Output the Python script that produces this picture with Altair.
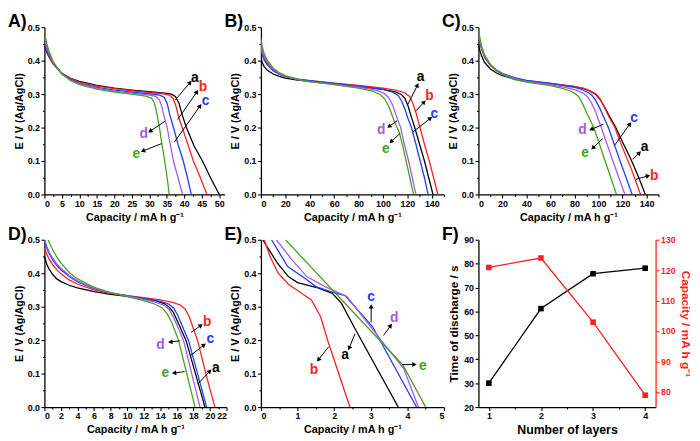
import math
import altair as alt
import pandas as pd

FONT = "Liberation Sans"
SERIES = ["a", "b", "c", "d", "e"]
COLORS = ["#000000", "#ff1f1f", "#1f3cff", "#a25ce6", "#42a31e"]
RED = "#ff1f1f"

W_A, W_B, W_C = 183, 186, 183
W_D, W_E, W_F = 185, 186, 180
H = 170

# ---------------- Panel A ----------------
A_a = [[0,0.45],[0.5,0.43],[1,0.417],[2.5,0.39],[5,0.362],[7.5,0.347],[10,0.338],[15,0.326],[20,0.318],[25,0.312],[30,0.307],[35,0.302],[36.5,0.299],[37.5,0.292],[38.5,0.272],[39.5,0.235],[40.6,0.2],[42.8,0.145],[45.2,0.1],[47.5,0.05],[50,0]]
A_b = [[0,0.455],[0.5,0.435],[1,0.42],[2.5,0.391],[5,0.362],[7.5,0.346],[10,0.336],[15,0.324],[20,0.316],[25,0.31],[30,0.305],[34,0.301],[35.8,0.297],[36.8,0.287],[37.6,0.265],[38.4,0.23],[39.4,0.2],[41,0.15],[42.6,0.1],[44.6,0.05],[46.5,0]]
A_c = [[0,0.46],[0.5,0.44],[1,0.423],[2.5,0.392],[5,0.36],[7.5,0.344],[10,0.333],[15,0.32],[20,0.312],[25,0.306],[30,0.301],[33,0.297],[34.3,0.29],[35.1,0.272],[35.8,0.24],[36.9,0.2],[38.2,0.15],[39.7,0.1],[40.9,0.05],[42,0]]
A_d = [[0,0.47],[0.5,0.447],[1,0.43],[2.5,0.394],[5,0.36],[7.5,0.342],[10,0.331],[15,0.318],[20,0.309],[25,0.303],[30,0.297],[31.8,0.293],[32.9,0.283],[33.6,0.262],[34.2,0.235],[35.1,0.2],[36,0.15],[36.9,0.1],[38.2,0.05],[39.5,0]]
A_e = [[0,0.495],[0.3,0.47],[0.7,0.45],[1.2,0.432],[2.5,0.397],[5,0.36],[7.5,0.34],[10,0.328],[15,0.315],[20,0.306],[25,0.3],[29,0.294],[30.6,0.288],[31.4,0.275],[32,0.25],[32.9,0.2],[33.6,0.15],[34.4,0.1],[35.1,0.05],[35.7,0]]
# arrows: start x, start y, end x, end y, label x, label y
A_arrows = [[37.4,0.282,42.0,0.339,43.0,0.349],[38.1,0.224,43.9,0.311,45.3,0.320],[37.2,0.157,44.8,0.269,46.1,0.279],[34.5,0.219,29.8,0.186,28.4,0.181],[33.5,0.152,27.7,0.128,26.3,0.122]]
A_xdom = [0, 51.5]
A_xticks = [0, 5, 10, 15, 20, 25, 30, 35, 40, 45, 50]
A_xminor = [2.5, 7.5, 12.5, 17.5, 22.5, 27.5, 32.5, 37.5, 42.5, 47.5]

# ---------------- Panel B ----------------
B_a = [[0,0.41],[1,0.395],[2.5,0.383],[5,0.372],[10,0.36],[15,0.353],[20,0.348],[30,0.342],[40,0.338],[60,0.331],[80,0.323],[100,0.314],[110,0.307],[115,0.299],[118,0.287],[120.5,0.265],[123,0.235],[126,0.2],[130,0.15],[134,0.1],[137.5,0.05],[141,0]]
B_b = [[0,0.44],[1,0.425],[2.5,0.41],[5,0.392],[10,0.372],[15,0.36],[20,0.353],[30,0.345],[40,0.34],[60,0.333],[80,0.326],[100,0.318],[110,0.312],[118,0.304],[122,0.292],[124.5,0.272],[127,0.245],[130,0.205],[134,0.15],[138,0.1],[141.5,0.05],[145,0]]
B_c = [[0,0.43],[1,0.418],[2.5,0.403],[5,0.388],[10,0.37],[15,0.359],[20,0.352],[30,0.345],[40,0.34],[60,0.332],[80,0.324],[100,0.314],[108,0.306],[112.5,0.296],[115.5,0.278],[118,0.255],[120.5,0.227],[123.3,0.2],[127,0.15],[130.5,0.1],[134,0.05],[137,0]]
B_d = [[0,0.45],[1,0.433],[2.5,0.415],[5,0.397],[10,0.375],[15,0.361],[20,0.353],[30,0.343],[40,0.337],[60,0.329],[80,0.321],[95,0.311],[101,0.302],[104.5,0.29],[107.5,0.27],[110,0.245],[112.3,0.22],[114.5,0.2],[117.5,0.15],[121,0.1],[124,0.05],[127,0]]
B_e = [[0,0.465],[1,0.445],[2.5,0.423],[5,0.402],[10,0.378],[15,0.364],[20,0.355],[30,0.344],[40,0.337],[60,0.328],[80,0.318],[92,0.308],[98,0.298],[101.5,0.285],[104.5,0.265],[107,0.242],[109.1,0.22],[111.5,0.2],[113.6,0.183],[116.5,0.14],[119,0.1],[122,0.05],[125,0]]
B_arrows = [[120.2,0.268,128.9,0.331,130.8,0.350],[126.8,0.249,134.7,0.280,138.1,0.295],[124.2,0.186,140.0,0.231,142.1,0.239],[111.5,0.220,103.8,0.200,98.5,0.192],[114.1,0.183,105.6,0.154,102.4,0.135]]
B_xdom = [0, 150]
B_xticks = [0, 20, 40, 60, 80, 100, 120, 140]
B_xminor = [10, 30, 50, 70, 90, 110, 130, 150]

# ---------------- Panel C ----------------
C_a = [[0,0.45],[1,0.433],[2.5,0.415],[5,0.395],[10,0.375],[15,0.363],[20,0.355],[30,0.345],[40,0.339],[60,0.331],[80,0.322],[88,0.316],[93,0.309],[97.5,0.3],[101.5,0.283],[106,0.255],[110,0.228],[114.4,0.2],[120,0.157],[127,0.105],[133,0.055],[139,0]]
C_b = [[0,0.48],[1,0.458],[2.5,0.435],[5,0.41],[10,0.385],[15,0.37],[20,0.36],[30,0.347],[40,0.34],[60,0.332],[80,0.323],[88,0.317],[93,0.31],[98,0.3],[101.5,0.285],[105,0.26],[109,0.23],[113.6,0.2],[120,0.14],[127.5,0.075],[135,0]]
C_c = [[0,0.485],[1,0.462],[2.5,0.438],[5,0.413],[10,0.387],[15,0.372],[20,0.362],[30,0.349],[40,0.341],[60,0.332],[80,0.32],[86,0.314],[90,0.307],[94.2,0.298],[97.5,0.282],[101,0.258],[104.5,0.23],[108.2,0.2],[118,0.1],[128,0]]
C_d = [[0,0.49],[1,0.465],[2.5,0.44],[5,0.415],[10,0.388],[15,0.372],[20,0.36],[30,0.346],[40,0.338],[60,0.328],[75,0.318],[82,0.311],[87,0.303],[90.7,0.293],[94,0.275],[97.5,0.248],[102.3,0.2],[112,0.1],[122,0]]
C_e = [[0,0.5],[1,0.472],[2.5,0.445],[5,0.418],[10,0.388],[15,0.37],[20,0.358],[30,0.343],[40,0.336],[60,0.325],[70,0.317],[76,0.31],[80,0.303],[83.5,0.292],[86.5,0.273],[90,0.245],[96.1,0.2],[105.5,0.1],[115,0]]
C_arrows = [[128.4,0.105,135.1,0.128,138.3,0.142],[131.0,0.045,142.6,0.057,146.4,0.055],[113.4,0.147,127.0,0.215,129.7,0.229],[104.2,0.210,92.6,0.1925,86.7,0.1925],[103.4,0.1665,94.2,0.1355,88.9,0.123]]
C_xdom = [0, 150]
C_xticks = [0, 20, 40, 60, 80, 100, 120, 140]
C_xminor = [10, 30, 50, 70, 90, 110, 130, 150]

# ---------------- Panel D ----------------
D_a = [[0,0.45],[0.25,0.43],[0.5,0.415],[1,0.396],[1.5,0.383],[2,0.375],[3,0.364],[4,0.356],[6,0.345],[8,0.337],[10,0.331],[12,0.324],[13.5,0.317],[14.5,0.309],[15.1,0.298],[15.6,0.282],[16.2,0.25],[17.1,0.2],[18.25,0.1],[19.4,0]]
D_b = [[0,0.475],[0.5,0.445],[1,0.425],[1.5,0.41],[2,0.398],[3,0.38],[4,0.367],[6,0.35],[8,0.34],[10,0.333],[12,0.327],[14,0.32],[15.5,0.313],[16.4,0.305],[17,0.293],[17.5,0.27],[18,0.235],[18.5,0.2],[19.5,0.1],[20.6,0]]
D_c = [[0,0.495],[0.2,0.48],[0.5,0.462],[1,0.44],[1.5,0.423],[2,0.41],[3,0.39],[4,0.374],[6,0.354],[8,0.341],[10,0.333],[12,0.325],[14,0.316],[15,0.308],[15.6,0.296],[16.1,0.275],[16.6,0.245],[17.4,0.2],[18.5,0.1],[19.6,0]]
D_d = [[0.05,0.5],[0.3,0.48],[0.6,0.462],[1,0.445],[1.5,0.428],[2,0.415],[3,0.393],[4,0.377],[6,0.355],[8,0.341],[10,0.332],[12,0.322],[13.5,0.313],[14.5,0.304],[15.1,0.29],[15.6,0.268],[16.1,0.24],[16.8,0.2],[17.8,0.1],[18.8,0]]
D_e = [[0.45,0.5],[0.7,0.485],[1,0.47],[1.5,0.448],[2,0.43],[3,0.402],[4,0.383],[6,0.358],[8,0.342],[10,0.33],[12,0.318],[13.3,0.308],[14.2,0.297],[14.8,0.28],[15.4,0.252],[16.2,0.2],[17.2,0.1],[18.2,0]]
D_arrows = [[18.5,0.068,20.13,0.111,20.71,0.118],[17.71,0.223,19.08,0.247,19.66,0.255],[17.71,0.155,19.46,0.189,20.05,0.202],[16.35,0.198,15.0,0.194,14.01,0.184],[16.93,0.106,15.46,0.101,14.6,0.101]]
D_xdom = [0, 22]
D_xticks = [0, 2, 4, 6, 8, 10, 12, 14, 16, 18, 20, 22]
D_xminor = [1, 3, 5, 7, 9, 11, 13, 15, 17, 19, 21]

# ---------------- Panel E ----------------
E_a = [[0.05,0.5],[0.45,0.43],[0.75,0.39],[1.0,0.372],[1.5,0.358],[1.95,0.34],[2.2,0.31],[2.57,0.234],[3.75,0]]
E_b = [[0.09,0.5],[0.25,0.45],[0.47,0.4],[0.75,0.367],[0.95,0.352],[1.38,0.32],[1.63,0.27],[1.85,0.19],[2.43,0]]
E_c = [[0.29,0.5],[0.73,0.42],[1.2,0.385],[1.5,0.36],[1.9,0.345],[2.3,0.333],[3.05,0.24],[3.3,0.19],[4.25,0]]
E_d = [[0.42,0.5],[0.85,0.44],[1.25,0.39],[1.75,0.36],[2.35,0.33],[3.35,0.19],[3.9,0.115],[4.3,0]]
E_e = [[0.67,0.5],[3.88,0.125],[4.5,0]]
E_arrows = [[2.57,0.219,2.39,0.171,2.30,0.154],[1.85,0.180,1.54,0.137,1.45,0.112],[3.01,0.253,3.01,0.306,3.01,0.328],[3.35,0.214,3.57,0.248,3.64,0.267],[3.86,0.127,4.24,0.127,4.42,0.124]]
E_xdom = [0, 5]
E_xticks = [0, 1, 2, 3, 4, 5]
E_xminor = [0.5, 1.5, 2.5, 3.5, 4.5]

Y_TICKS = [0, 0.1, 0.2, 0.3, 0.4, 0.5]
Y_MINOR = [0.05, 0.15, 0.25, 0.35, 0.45]

# ---------------- Panel F ----------------
F_layers = [1, 2, 3, 4]
F_time = [30.0, 61.2, 75.8, 78.1]
F_capacity = [120.9, 124.0, 102.9, 78.9]
F_xminor = [1.5, 2.5, 3.5]

PANEL_LABELS = ["A)", "B)", "C)", "D)", "E)", "F)"]
XTITLE = "Capacity / mA h g⁻¹"
YTITLE = "E / V (Ag/AgCl)"


def panel_label(text):
    return alt.Chart(pd.DataFrame({"t": [text]})).mark_text(
        fontSize=18, fontWeight="bold", font=FONT, color="black",
        align="left", baseline="alphabetic",
    ).encode(x=alt.value(-37), y=alt.value(0), text="t:N")


def minor_axis(values, orient):
    return alt.Axis(values=values, labels=False, title=None, domain=False,
                    tickSize=2, orient=orient)


def curve_panel(label, curves, arrows, xdom, xticks, xminor, w, h):
    rows = []
    for s, pts in zip(SERIES, curves):
        for i, (x, y) in enumerate(pts):
            rows.append({"x": x, "y": y, "s": s, "i": i})
    df = pd.DataFrame(rows)
    sx = w / (xdom[1] - xdom[0])
    sy = h / 0.5
    arows = []
    for s, (x1, y1, x2, y2, lx, ly) in zip(SERIES, arrows):
        dx = (x2 - x1) * sx
        dy = -(y2 - y1) * sy
        L = math.hypot(dx, dy)
        ux, uy = dx / L, dy / L
        xc = x2 - 2.5 * ux / sx
        yc = y2 + 2.5 * uy / sy
        ang = math.degrees(math.atan2(dx, -dy)) % 360
        arows.append(dict(s=s, x1=x1, y1=y1, xc=xc, yc=yc, lx=lx, ly=ly, ang=ang))
    adf = pd.DataFrame(arows)

    xs = alt.Scale(domain=xdom, nice=False, zero=False)
    ys = alt.Scale(domain=[0, 0.5], nice=False, zero=False)
    col = alt.Scale(domain=SERIES, range=COLORS)
    xaxis = alt.Axis(values=xticks, format="d", title=XTITLE)
    yaxis = alt.Axis(values=Y_TICKS, format=".1f", title=YTITLE)

    lines = alt.Chart(df).mark_line(strokeWidth=1.3, clip=True).encode(
        x=alt.X("x:Q", scale=xs, axis=xaxis),
        y=alt.Y("y:Q", scale=ys, axis=yaxis),
        color=alt.Color("s:N", scale=col, legend=None),
        order="i:Q",
    )
    rules = alt.Chart(adf).mark_rule(color="black", strokeWidth=1).encode(
        x=alt.X("x1:Q", scale=xs, axis=xaxis),
        y=alt.Y("y1:Q", scale=ys, axis=yaxis),
        x2="xc:Q", y2="yc:Q",
    )
    heads = alt.Chart(adf).mark_point(shape="triangle", filled=True, size=26,
                                      color="black", opacity=1).encode(
        x=alt.X("xc:Q", scale=xs, axis=xaxis),
        y=alt.Y("yc:Q", scale=ys, axis=yaxis),
        angle=alt.Angle("ang:Q", scale=None),
    )
    texts = alt.Chart(adf).mark_text(fontSize=14, fontWeight="bold", font=FONT,
                                     align="center", baseline="middle").encode(
        x=alt.X("lx:Q", scale=xs, axis=xaxis),
        y=alt.Y("ly:Q", scale=ys, axis=yaxis),
        text="s:N",
        color=alt.Color("s:N", scale=col, legend=None),
    )
    main = alt.layer(lines, rules, heads, texts)
    minor = alt.Chart(df).mark_point(opacity=0).encode(
        x=alt.X("x:Q", scale=xs, axis=minor_axis(xminor, "bottom")),
        y=alt.Y("y:Q", scale=ys, axis=minor_axis(Y_MINOR, "left")),
    )
    return alt.layer(main, minor, panel_label(label)).resolve_axis(
        x="independent", y="independent").properties(width=w, height=h)


pA = curve_panel(PANEL_LABELS[0], [A_a, A_b, A_c, A_d, A_e], A_arrows, A_xdom, A_xticks, A_xminor, W_A, H)
pB = curve_panel(PANEL_LABELS[1], [B_a, B_b, B_c, B_d, B_e], B_arrows, B_xdom, B_xticks, B_xminor, W_B, H)
pC = curve_panel(PANEL_LABELS[2], [C_a, C_b, C_c, C_d, C_e], C_arrows, C_xdom, C_xticks, C_xminor, W_C, H)
pD = curve_panel(PANEL_LABELS[3], [D_a, D_b, D_c, D_d, D_e], D_arrows, D_xdom, D_xticks, D_xminor, W_D, H)
pE = curve_panel(PANEL_LABELS[4], [E_a, E_b, E_c, E_d, E_e], E_arrows, E_xdom, E_xticks, E_xminor, W_E, H)

dfF = pd.DataFrame({"n": F_layers, "t": F_time, "c": F_capacity})
fxs = alt.Scale(domain=[0.8, 4.2], nice=False, zero=False)
fx = alt.X("n:Q", scale=fxs,
           axis=alt.Axis(values=[1, 2, 3, 4], format="d", title="Number of layers",
                         titleFontSize=12.5))
f_black = alt.Chart(dfF).mark_line(
    color="black", strokeWidth=1.3,
    point=alt.OverlayMarkDef(shape="square", filled=True, size=32, color="black", opacity=1),
).encode(
    x=fx,
    y=alt.Y("t:Q", scale=alt.Scale(domain=[20, 90], nice=False, zero=False),
            axis=alt.Axis(values=list(range(20, 91, 10)), title="Time of discharge / s",
                          titleFontSize=12)),
)
f_red = alt.Chart(dfF).mark_line(
    color=RED, strokeWidth=1.3,
    point=alt.OverlayMarkDef(shape="square", filled=True, size=32, color=RED, opacity=1),
).encode(
    x=fx,
    y=alt.Y("c:Q", scale=alt.Scale(domain=[75, 130], nice=False, zero=False),
            axis=alt.Axis(orient="right", values=list(range(80, 131, 10)), title=XTITLE,
                          titleFontSize=12, labelColor=RED, titleColor=RED,
                          domainColor=RED, tickColor=RED)),
)
f_main = alt.layer(f_black, f_red).resolve_scale(y="independent")
f_minor = alt.Chart(dfF).mark_point(opacity=0).encode(
    x=alt.X("n:Q", scale=fxs, axis=minor_axis(F_xminor, "bottom")),
)
pF = alt.layer(f_main, f_minor, panel_label(PANEL_LABELS[5])).resolve_axis(
    x="independent").properties(width=W_F, height=H)

chart = alt.concat(
    pA, pB, pC, pD, pE, pF, columns=3,
    spacing=alt.RowColnumber(row=46, column=35), bounds="flush",
).properties(
    padding={"top": 2, "left": 0, "right": 0, "bottom": 0},
).configure_view(stroke=None).configure_axis(
    labelFont=FONT, labelFontWeight="bold", labelFontSize=9, labelColor="black",
    titleFont=FONT, titleFontWeight="bold", titleFontSize=11, titleColor="black",
    grid=False, domainColor="black", domainWidth=1.3, tickColor="black", tickSize=3.5,
    tickWidth=1.1, labelPadding=1.5, titlePadding=3,
)

chart.save("out.html", embed_options={"renderer": "svg", "actions": False})
